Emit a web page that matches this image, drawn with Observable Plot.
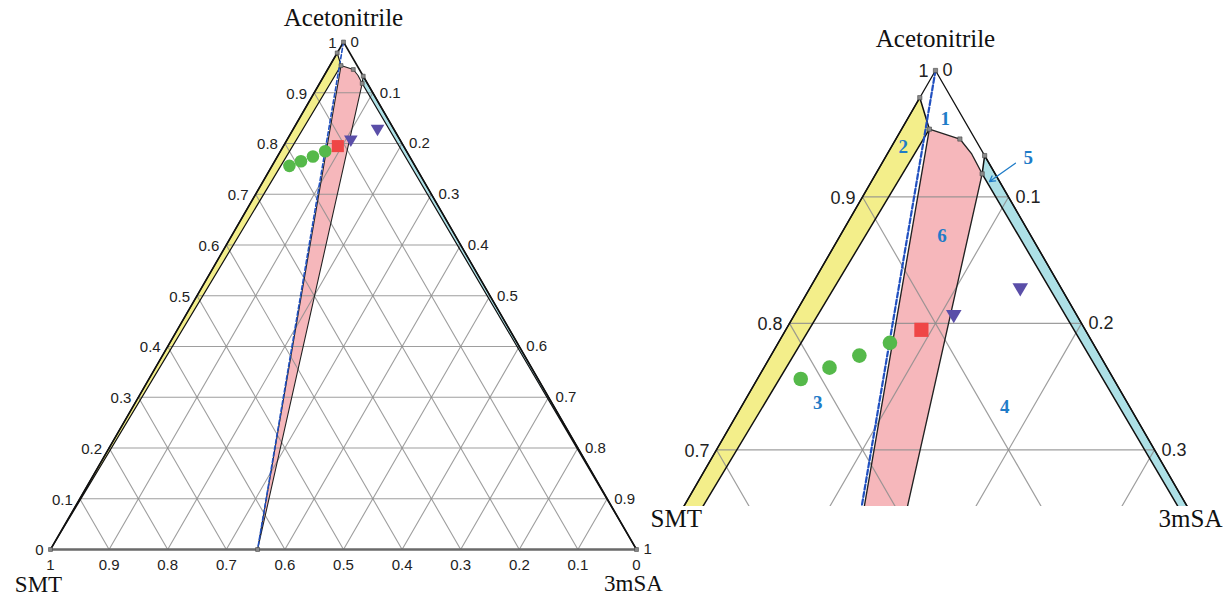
<!DOCTYPE html>
<html>
<head>
<meta charset="utf-8">
<script src="https://cdn.jsdelivr.net/npm/d3@7"></script>
<script src="https://cdn.jsdelivr.net/npm/@observablehq/plot@0.6"></script>
<style>
  body { margin: 0; background: #ffffff; }
  #wrap { position: relative; width: 1224px; height: 598px; overflow: hidden; background: #ffffff; }
</style>
</head>
<body>
<div id="wrap"></div>
<script>
// ---------- DATA (ternary fractions: a = Acetonitrile, s = 3mSA, SMT = 1 - a - s) ----------
const apexLabel = "Acetonitrile";
const leftLabel = "SMT";
const rightLabel = "3mSA";

const tickValues = [0, 0.1, 0.2, 0.3, 0.4, 0.5, 0.6, 0.7, 0.8, 0.9, 1];
const tickLabels = ["0", "0.1", "0.2", "0.3", "0.4", "0.5", "0.6", "0.7", "0.8", "0.9", "1"];
const gridLevels = [0.1, 0.2, 0.3, 0.4, 0.5, 0.6, 0.7, 0.8, 0.9];

// region 2: SMT + solution (yellow)
const yellowA = [0, 0.9785, 0.9536];
const yellowS = [0, 0, 0.019];
// region 6: cocrystal + solution (pink)
const pinkA = [0, 0.9536, 0.9458, 0.934, 0.9183];
const pinkS = [0.3534, 0.019, 0.0438, 0.0578, 0.0728];
// region 5: 3mSA + solution (light blue)
const blueA = [0, 0.9327, 0.9183];
const blueS = [1, 0.0673, 0.0728];
// stoichiometric (cocrystal) line
const stoichA = [1, 0];
const stoichS = [0, 0.3534];
// measured nodes (small grey squares)
const nodeA = [1, 0.9785, 0.9536, 0.9458, 0.9327, 0.9183, 0, 0, 0];
const nodeS = [0, 0, 0.019, 0.0438, 0.0673, 0.0728, 0, 0.3534, 1];
// experimental points
const greenA = [0.756, 0.765, 0.7745, 0.7846];
const greenS = [0.0297, 0.0449, 0.0606, 0.0765];
const squareA = [0.7949];
const squareS = [0.0929];
const triA = [0.8062, 0.8273];
const triS = [0.1094, 0.1444];
// region numbers (right panel)
const regionNames = ["1", "2", "3", "4", "5", "6"];
const regionA = [0.9615, 0.9392, 0.7368, 0.7342, 0.9309, 0.8695];
const regionS = [0.026, 0.0083, 0.0509, 0.1803, 0.098, 0.0697];
const arrowA = [0.9267, 0.9122];
const arrowS = [0.0914, 0.0809];

// ---------- helpers ----------
const SQ = Math.sqrt(3) / 2;
const tern = (a, s) => ({x: s + a / 2, y: a * SQ});
const poly = (A, S) => A.map((a, i) => tern(a, S[i]));

const grid = [];
gridLevels.forEach(t => {
  [[tern(t, 0), tern(t, 1 - t)], [tern(0, t), tern(1 - t, t)], [tern(0, 1 - t), tern(1 - t, 0)]]
    .forEach((seg, k) => seg.forEach(p => grid.push({...p, z: k + "-" + t})));
});
const leftTicks = tickValues.map((v, i) => ({...tern(v, 0), v, label: tickLabels[i]}));
const rightTicks = tickValues.map((v, i) => ({...tern(1 - v, v), v, label: tickLabels[i]}));
const bottomTicks = tickValues.map((v, i) => ({...tern(0, 1 - v), v, label: tickLabels[i]}));

const yellowPoly = poly(yellowA, yellowS);
const pinkPoly = poly(pinkA, pinkS);
const bluePoly = poly(blueA, blueS);
const stoichLine = poly(stoichA, stoichS);
const nodes = poly(nodeA, nodeS);
const green = poly(greenA, greenS);
const squares = poly(squareA, squareS);
const tris = poly(triA, triS);
const regions = regionA.map((a, i) => ({...tern(a, regionS[i]), label: regionNames[i]}));
const arrowP = poly(arrowA, arrowS);

const triDown = {
  draw(ctx, size) {
    const r = Math.sqrt(size / Math.PI);
    ctx.moveTo(-r, -r * 0.72);
    ctx.lineTo(r, -r * 0.72);
    ctx.lineTo(0, r * 0.98);
    ctx.closePath();
  }
};

const COL = {
  yellow: "#f3ee8a", pink: "#f6b7bb", blue: "#ade0e6", grid: "#8d8d8d",
  green: "#55b94a", red: "#ef4646", purple: "#5a4ea8", num: "#1f7cc8", dash: "#2150c0"
};
const SERIF = "Liberation Serif, Times New Roman, serif";
const SANS = "Liberation Sans, Arial, sans-serif";

function panel(o) {
  const c = o.clip;
  const marks = [
    Plot.line(yellowPoly, {x: "x", y: "y", curve: "linear-closed", fill: COL.yellow, stroke: "none", clip: c}),
    Plot.line(bluePoly, {x: "x", y: "y", curve: "linear-closed", fill: COL.blue, stroke: "none", clip: c}),
    Plot.line(pinkPoly, {x: "x", y: "y", curve: "linear-closed", fill: COL.pink, stroke: "none", clip: c}),
    Plot.line(grid, {x: "x", y: "y", z: "z", stroke: COL.grid, strokeWidth: o.gridW, strokeOpacity: 0.85, clip: c}),
    Plot.line(yellowPoly, {x: "x", y: "y", curve: "linear-closed", stroke: "#111", strokeWidth: o.edgeW, clip: c}),
    Plot.line(bluePoly, {x: "x", y: "y", curve: "linear-closed", stroke: "#111", strokeWidth: o.edgeW, clip: c}),
    Plot.line(pinkPoly, {x: "x", y: "y", curve: "linear-closed", stroke: "#222", strokeWidth: o.edgeW * 0.9, clip: c}),
    Plot.line([tern(0, 0), tern(1, 0)], {x: "x", y: "y", stroke: "#111", strokeWidth: o.sideW, clip: c}),
    Plot.line([tern(1, 0), tern(0, 1)], {x: "x", y: "y", stroke: "#111", strokeWidth: o.sideW, clip: c}),
    Plot.line([tern(0, 0), tern(0, 1)], {x: "x", y: "y", stroke: "#6a6a6a", strokeWidth: 2.6, clip: c}),
    Plot.line(stoichLine, {x: "x", y: "y", stroke: COL.dash, strokeWidth: o.dashW, strokeDasharray: o.dashA, clip: c}),
    Plot.dot(nodes, {x: "x", y: "y", symbol: "square", r: o.nodeR, fill: "#8a8a8a", stroke: "#444", strokeWidth: 0.6, clip: c}),
    Plot.dot(green, {x: "x", y: "y", r: o.greenR, fill: COL.green, stroke: "none"}),
    Plot.dot(squares, {x: "x", y: "y", symbol: "square", r: o.squareR, fill: COL.red, stroke: "none"}),
    Plot.dot(tris, {x: "x", y: "y", symbol: triDown, r: o.triR, fill: COL.purple, stroke: "none"}),
    Plot.text(leftTicks.filter(d => d.v >= o.minA), {x: "x", y: "y", text: "label", textAnchor: "end", dx: -7, dy: 1,
      fontSize: o.tickFs, fontFamily: SANS, fill: "#222"}),
    Plot.text(rightTicks.filter(d => 1 - d.v >= o.minA), {x: "x", y: "y", text: "label", textAnchor: "start", dx: 7, dy: 0,
      fontSize: o.tickFs, fontFamily: SANS, fill: "#222"}),
    Plot.text([tern(1, 0)], {x: "x", y: "y", text: [apexLabel], dy: o.titleDy, fontSize: 25, fontFamily: SERIF, fill: "#111"})
  ];
  if (o.bottom) {
    marks.push(
      Plot.text(bottomTicks, {x: "x", y: "y", text: "label", dy: 16, fontSize: o.tickFs, fontFamily: SANS, fill: "#222"}),
      Plot.text([tern(0, 0)], {x: "x", y: "y", text: [leftLabel], dx: -12, dy: 35, fontSize: 23, fontFamily: SERIF, fill: "#111"}),
      Plot.text([tern(0, 1)], {x: "x", y: "y", text: [rightLabel], dx: -3, dy: 34, fontSize: 23, fontFamily: SERIF, fill: "#111"})
    );
  } else {
    marks.push(
      Plot.text([leftLabel], {frameAnchor: "bottom-left", text: d => d, textAnchor: "start", dx: -10, dy: 20,
        fontSize: 25, fontFamily: SERIF, fill: "#111"}),
      Plot.text([rightLabel], {frameAnchor: "bottom-right", text: d => d, textAnchor: "end", dx: -2, dy: 20,
        fontSize: 25, fontFamily: SERIF, fill: "#111"}),
      Plot.text(regions, {x: "x", y: "y", text: "label", fontSize: 19, fontWeight: "bold", fontFamily: SERIF, fill: COL.num}),
      Plot.arrow([{x1: arrowP[0].x, y1: arrowP[0].y, x2: arrowP[1].x, y2: arrowP[1].y}],
        {x1: "x1", y1: "y1", x2: "x2", y2: "y2", stroke: COL.num, strokeWidth: 1.3, headLength: 7})
    );
  }
  return Plot.plot({
    width: o.width,
    height: 598,
    marginTop: 0, marginLeft: 0, marginRight: 0, marginBottom: o.marginBottom,
    x: {domain: [0, 1], range: o.xRange, axis: null},
    y: {domain: [0, SQ], range: o.yRange, axis: null},
    style: `position:absolute;top:0px;left:${o.left}px;overflow:visible;background:transparent;max-width:none;`,
    marks
  });
}

const wrap = document.getElementById("wrap");
wrap.appendChild(panel({
  width: 660, left: 0, marginBottom: 0,
  xRange: [50, 636], yRange: [549, 549 - 586 * SQ],
  clip: false, gridW: 1.1, edgeW: 1.2, sideW: 1.6, dashW: 1.6, dashA: "4,2.5",
  nodeR: 2.2, greenR: 6.3, squareR: 6.8, triR: 6.8, tickFs: 15, minA: 0, titleDy: -24, bottom: true
}));
wrap.appendChild(panel({
  width: 564, left: 660, marginBottom: 92,
  xRange: [275 - 730, 275 + 730], yRange: [70 + 1460 * SQ, 70],
  clip: true, gridW: 1.2, edgeW: 1.5, sideW: 1.3, dashW: 2.2, dashA: "5,2.5",
  nodeR: 2.4, greenR: 7.3, squareR: 8.0, triR: 7.8, tickFs: 18, minA: 0.65, titleDy: -32, bottom: false
}));
</script>
</body>
</html>
